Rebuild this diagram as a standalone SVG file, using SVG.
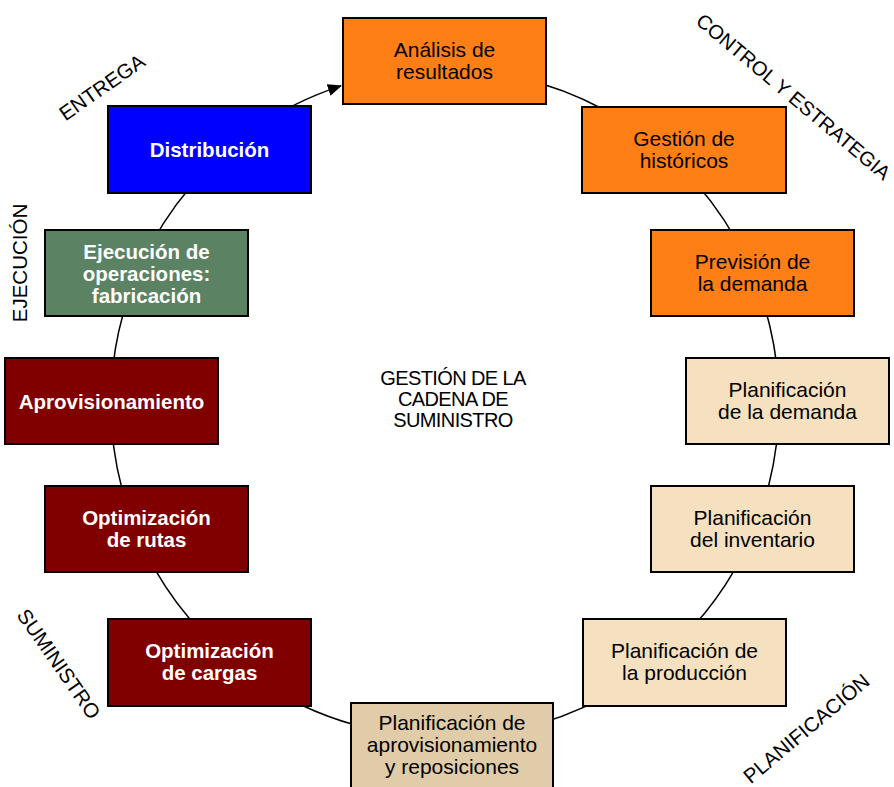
<svg xmlns="http://www.w3.org/2000/svg" width="894" height="787" viewBox="0 0 894 787">
<defs>
<marker id="ah" markerWidth="14" markerHeight="12" refX="13" refY="6" orient="auto" markerUnits="userSpaceOnUse">
<path d="M0,0 L14,6 L0,12 Z" fill="#000"/>
</marker>
<style>
.box{stroke:#000;stroke-width:2}
.or{fill:#FF7F17}
.lt{fill:#F5E1C0}
.tn{fill:#E0CCA8}
.dr{fill:#800000}
.gr{fill:#5A8263}
.bl{fill:#0000FF}
text{font-family:"Liberation Sans",Arial,sans-serif;font-size:21px;text-anchor:middle}
.w{fill:#fff;font-weight:bold;font-size:20.5px}
.k{fill:#000}
.lab{font-size:20.5px;fill:#000}
.ctr{font-size:20px;fill:#000;letter-spacing:-0.6px}
</style>
</defs>
<rect width="894" height="787" fill="#fff"/>
<g id="connectors">
<path d="M360,80.3 A334,334 0 1,1 341,85.9" fill="none" stroke="#000" stroke-width="1.5" marker-end="url(#ah)"/>
</g>
<g id="n-analisis"><rect class="box or" x="343" y="18" width="203" height="86"/><text class="k" x="444.5" y="57">Análisis de</text><text class="k" x="444.5" y="79">resultados</text></g>
<g id="n-historicos"><rect class="box or" x="582" y="107" width="204" height="86"/><text class="k" x="684" y="146">Gestión de</text><text class="k" x="684" y="168">históricos</text></g>
<g id="n-prevision"><rect class="box or" x="651" y="230" width="203" height="86"/><text class="k" x="752.5" y="269">Previsión de</text><text class="k" x="752.5" y="291">la demanda</text></g>
<g id="n-plan-demanda"><rect class="box lt" x="686" y="358" width="203" height="86"/><text class="k" x="787.5" y="397">Planificación</text><text class="k" x="787.5" y="419">de la demanda</text></g>
<g id="n-plan-inventario"><rect class="box lt" x="651" y="486" width="203" height="86"/><text class="k" x="752.5" y="525">Planificación</text><text class="k" x="752.5" y="547">del inventario</text></g>
<g id="n-plan-produccion"><rect class="box lt" x="583" y="619" width="203" height="87"/><text class="k" x="684.5" y="658">Planificación de</text><text class="k" x="684.5" y="680">la producción</text></g>
<g id="n-plan-aprov"><rect class="box tn" x="351" y="703" width="202" height="90"/><text class="k" x="452" y="730">Planificación de</text><text class="k" x="452" y="752">aprovisionamiento</text><text class="k" x="452" y="774">y reposiciones</text></g>
<g id="n-opt-cargas"><rect class="box dr" x="108" y="619" width="203" height="87"/><text class="w" x="209.5" y="658">Optimización</text><text class="w" x="209.5" y="680">de cargas</text></g>
<g id="n-opt-rutas"><rect class="box dr" x="45" y="486" width="203" height="86"/><text class="w" x="146.5" y="525">Optimización</text><text class="w" x="146.5" y="547">de rutas</text></g>
<g id="n-aprov"><rect class="box dr" x="5" y="358" width="213" height="86"/><text class="w" x="111.5" y="409">Aprovisionamiento</text></g>
<g id="n-ejecucion"><rect class="box gr" x="45" y="230" width="203" height="86"/><text class="w" x="146.5" y="259">Ejecución de</text><text class="w" x="146.5" y="281">operaciones:</text><text class="w" x="146.5" y="303">fabricación</text></g>
<g id="n-distribucion"><rect class="box bl" x="108" y="106" width="203" height="87"/><text class="w" x="209.5" y="157">Distribución</text></g>
<g id="labels">
<text class="ctr" x="453" y="385">GESTIÓN DE LA</text>
<text class="ctr" x="453" y="406">CADENA DE</text>
<text class="ctr" x="453" y="427">SUMINISTRO</text>
<text class="lab" transform="translate(106,93) rotate(-35)">ENTREGA</text>
<text class="lab" style="font-size:20px" transform="translate(789,102) rotate(40)">CONTROL Y ESTRATEGIA</text>
<text class="lab" transform="translate(27,263) rotate(-90)">EJECUCIÓN</text>
<text class="lab" transform="translate(53,668) rotate(55)">SUMINISTRO</text>
<text class="lab" transform="translate(811,734) rotate(-40)">PLANIFICACIÓN</text>
</g>
</svg>
